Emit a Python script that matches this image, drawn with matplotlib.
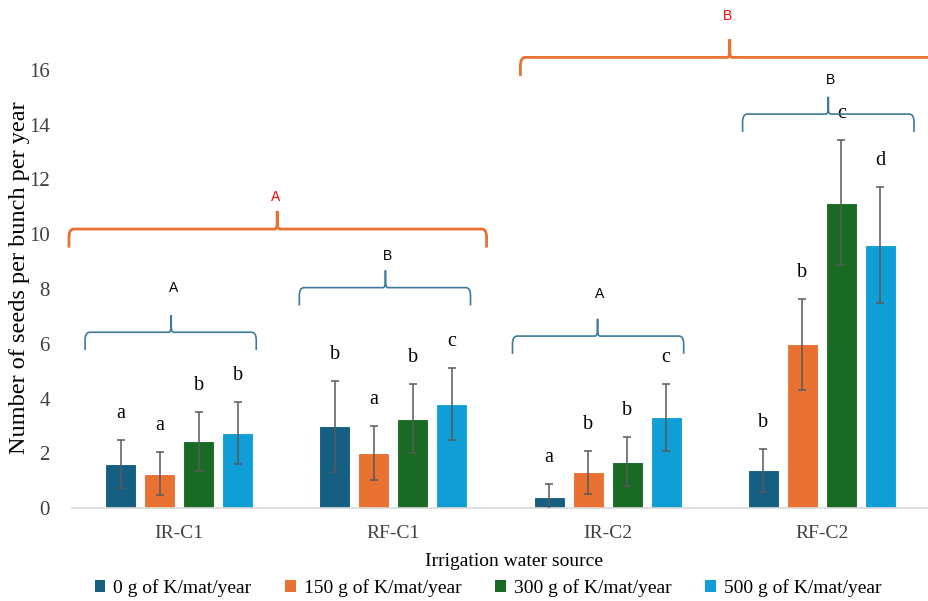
import numpy as np
import matplotlib.pyplot as plt
from matplotlib.path import Path
from matplotlib.patches import PathPatch, Patch

categories = ['IR-C1', 'RF-C1', 'IR-C2', 'RF-C2']
series = ['0 g of K/mat/year', '150 g of K/mat/year', '300 g of K/mat/year', '500 g of K/mat/year']
means = [
    [1.60, 2.98, 0.39, 1.38],
    [1.25, 2.02, 1.30, 5.98],
    [2.44, 3.26, 1.69, 11.15],
    [2.74, 3.79, 3.31, 9.61],
]
errs = [
    [0.87, 1.67, 0.48, 0.78],
    [0.78, 0.99, 0.78, 1.67],
    [1.08, 1.26, 0.89, 2.29],
    [1.13, 1.32, 1.22, 2.12],
]
letters = [
    ['a', 'b', 'a', 'b'],
    ['a', 'a', 'b', 'b'],
    ['b', 'b', 'b', 'c'],
    ['b', 'c', 'c', 'd'],
]
colors = ['#156082', '#E97132', '#196B24', '#0F9ED5']

# group braces: (left, right, peak x, text)
inner_braces = [(-0.439, 0.36, -0.037, 'A'), (0.561, 1.36, 0.963, 'B'),
                (1.556, 2.355, 1.953, 'A'), (2.63, 3.43, 3.03, 'B')]
inner_levels = [6.42, 8.05, 6.28, 14.39]
inner_text_y = [8.04, 9.2, 7.82, 15.63]
outer_braces = [(-0.514, 1.435, 0.458, 'A'), (1.593, 3.547, 2.57, 'B')]
outer_levels = [10.19, 16.46]
outer_text_y = [11.36, 17.96]

serif = 'Liberation Serif'
sans = 'Liberation Sans'

fig = plt.figure(figsize=(9.29, 6.01), dpi=100)
ax = fig.add_axes([72 / 929, 93 / 601, 857 / 929, 438 / 601])

x = np.arange(len(categories))
w = 0.145
step = 0.182
for i in range(4):
    xi = x + (i - 1.5) * step
    ax.bar(xi, means[i], w, color=colors[i], edgecolor='white', linewidth=0.8, zorder=2)
    ax.errorbar(xi, means[i], yerr=errs[i], fmt='none', ecolor='#595959',
                elinewidth=1.1, capsize=3, capthick=1.1, zorder=3)
    for j in range(len(categories)):
        top = means[i][j] + errs[i][j]
        ax.text(xi[j], top + 0.62, letters[i][j], ha='center', va='bottom',
                fontsize=14.5, family=serif)


def brace(x0, x1, xp, y, drop, rise, color, lw):
    rx = 0.022
    ry = drop * 0.45
    rp = 0.012
    verts = [(x0, y - drop), (x0, y - ry), (x0, y), (x0 + rx, y),
             (xp - rp, y), (xp, y), (xp, y + rise * 0.35), (xp, y + rise),
             (xp, y + rise * 0.35), (xp, y), (xp + rp, y),
             (x1 - rx, y), (x1, y), (x1, y - ry), (x1, y - drop)]
    codes = [Path.MOVETO, Path.LINETO, Path.CURVE3, Path.CURVE3,
             Path.LINETO, Path.CURVE3, Path.CURVE3, Path.LINETO,
             Path.LINETO, Path.CURVE3, Path.CURVE3,
             Path.LINETO, Path.CURVE3, Path.CURVE3, Path.LINETO]
    ax.add_patch(PathPatch(Path(verts, codes), facecolor='none', edgecolor=color,
                           lw=lw, clip_on=False, zorder=4, capstyle='butt'))


for (x0, x1, xp, t), lev, ty in zip(inner_braces, inner_levels, inner_text_y):
    brace(x0, x1, xp, lev, 0.65, 0.63, '#3E7A9A', 1.2)
    ax.text(xp + 0.01, ty, t, ha='center', va='center', fontsize=10, family=sans)

for (x0, x1, xp, t), lev, ty in zip(outer_braces, outer_levels, outer_text_y):
    brace(x0, x1, xp, lev, 0.68, 0.66, '#E97132', 2.0)
    ax.text(xp - 0.01, ty, t, ha='center', va='center', fontsize=10,
            family=sans, color='#FF0000', clip_on=False)

ax.set_xlim(-0.5, 3.5)
ax.set_ylim(0, 16)
ax.set_yticks(np.arange(0, 17, 2))
ax.set_xticks(x)
ax.set_xticklabels(categories)
for lab in ax.get_xticklabels():
    lab.set_family(serif)
    lab.set_fontsize(14)
    lab.set_color('#404040')
for lab in ax.get_yticklabels():
    lab.set_family(serif)
    lab.set_fontsize(15)
    lab.set_color('#404040')
ax.tick_params(axis='both', length=0)
ax.tick_params(axis='x', pad=12)
ax.tick_params(axis='y', pad=16)
for s in ['top', 'right', 'left']:
    ax.spines[s].set_visible(False)
ax.spines['bottom'].set_color('#d9d9d9')
ax.spines['bottom'].set_linewidth(1.2)
ax.set_xlabel('Irrigation water source', family=serif, fontsize=14)
ax.xaxis.set_label_coords(514 / 929, 1 - 561 / 601, transform=fig.transFigure)
ax.xaxis.label.set_va('center')
ax.set_ylabel('Number of seeds per bunch per year', family=serif, fontsize=17.5)
ax.yaxis.set_label_coords(20 / 929, 1 - 278 / 601, transform=fig.transFigure)
ax.yaxis.label.set_va('center')

handles = [Patch(facecolor=c, edgecolor='none') for c in colors]
fig.legend(handles, series, loc='center', bbox_to_anchor=(488 / 929, 13 / 601), ncol=4,
           frameon=False, prop={'family': serif, 'size': 14},
           handlelength=0.55, handleheight=0.55, handletextpad=0.4, columnspacing=1.75)

fig.savefig('out.png', dpi=100)
